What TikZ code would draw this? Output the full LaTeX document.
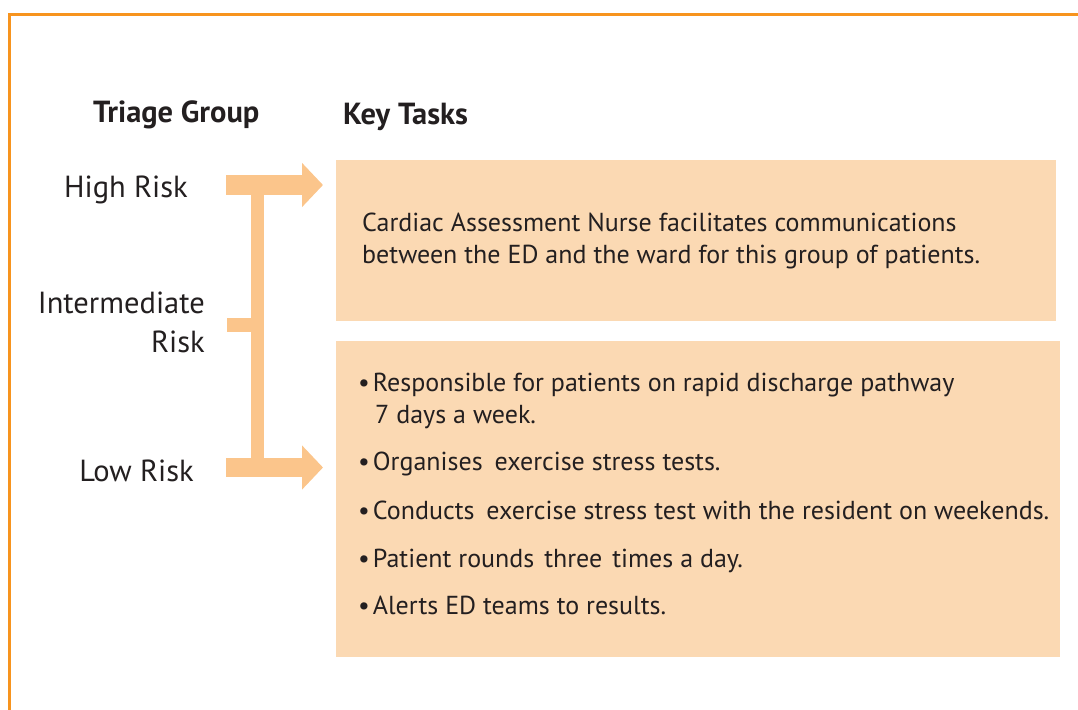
\documentclass[tikz,border=0pt]{standalone}
\usepackage{fontspec}
\setmainfont{PT Sans}
\usetikzlibrary{arrows.meta}
\definecolor{frameorange}{RGB}{247,148,30}
\definecolor{arrowfill}{RGB}{251,197,139}
\definecolor{boxfill}{RGB}{251,217,179}
\definecolor{txt}{RGB}{35,31,32}
\tikzset{
  x=1pt, y=-1pt,
  frameline/.style={draw=frameorange, line width=3pt},
  taskbox/.style={fill=boxfill, draw=none, anchor=north west, inner sep=0pt},
  heading/.style={font=\fontsize{30.5}{36}\selectfont\bfseries, text=txt, anchor=base west, inner sep=0pt},
  risklabel/.style={font=\fontsize{30.5}{36}\selectfont, text=txt, inner sep=0pt},
  tasktext/.style={font=\fontsize{26}{31}\selectfont, text=txt, anchor=base west, inner sep=0pt},
  blockarrow/.style={draw=arrowfill, line width=19.5pt, -{Triangle[width=43pt,length=21pt]}},
  barline/.style={draw=arrowfill, line width=13.5pt},
}
\begin{document}
\begin{tikzpicture}
\useasboundingbox (0,0) rectangle (1078,709);
% frame
\draw[frameline] (9.5,720) -- (9.5,15) -- (1090,15);
% headings
\node[heading] (tg) at (93,122) {Triage Group};
\node[heading] (kt) at (343,124) {Key Tasks};
% risk labels
\node[risklabel, anchor=base east] (hr) at (188,197) {High Risk};
\node[risklabel, anchor=base east] (ir1) at (205,313) {Intermediate};
\node[risklabel, anchor=base east] (ir2) at (205,352) {Risk};
\node[risklabel, anchor=base east] (lr) at (194,481) {Low Risk};
% boxes
\node[taskbox, minimum width=720pt, minimum height=161pt] (b1) at (336,160) {};
\node[taskbox, minimum width=724pt, minimum height=316pt] (b2) at (336,341) {};
% connector coordinates
\coordinate (hs) at (226,185);
\coordinate (ht) at (323,185);
\coordinate (ls) at (226,467.5);
\coordinate (lt) at (323,467.5);
\coordinate (vtop) at (257.5,194);
\coordinate (vbot) at (257.5,460);
\coordinate (ms) at (227,325);
\coordinate (me) at (258,325);
% bracket and arrows
\draw[barline] (vtop) -- (vbot);
\draw[barline] (ms) -- (me);
\draw[blockarrow] (hs) -- (ht);
\draw[blockarrow] (ls) -- (lt);
% box 1 text
\node[tasktext] (t1a) at (362,231.5) {Cardiac Assessment Nurse facilitates communications};
\node[tasktext] (t1b) at (362,263.5) {between the ED and the ward for this group of patients.};
% box 2 text
\node[tasktext] (p1a) at (358,391.5) {\textbullet\hspace{3pt}Responsible for patients on rapid discharge pathway};
\node[tasktext] (p1b) at (375,423) {7 days a week.};
\node[tasktext] (p2) at (358,470.5) {\textbullet\hspace{3pt}Organises\hspace{5pt} exercise stress tests.};
\node[tasktext] (p3) at (358,519) {\textbullet\hspace{3pt}Conducts\hspace{5pt} exercise stress test with the resident on weekends.};
\node[tasktext] (p4) at (358,567) {\textbullet\hspace{3pt}Patient rounds\hspace{3pt} three\hspace{3pt} times a day.};
\node[tasktext] (p5) at (358,614.5) {\textbullet\hspace{3pt}Alerts ED teams to results.};
\end{tikzpicture}
\end{document}
